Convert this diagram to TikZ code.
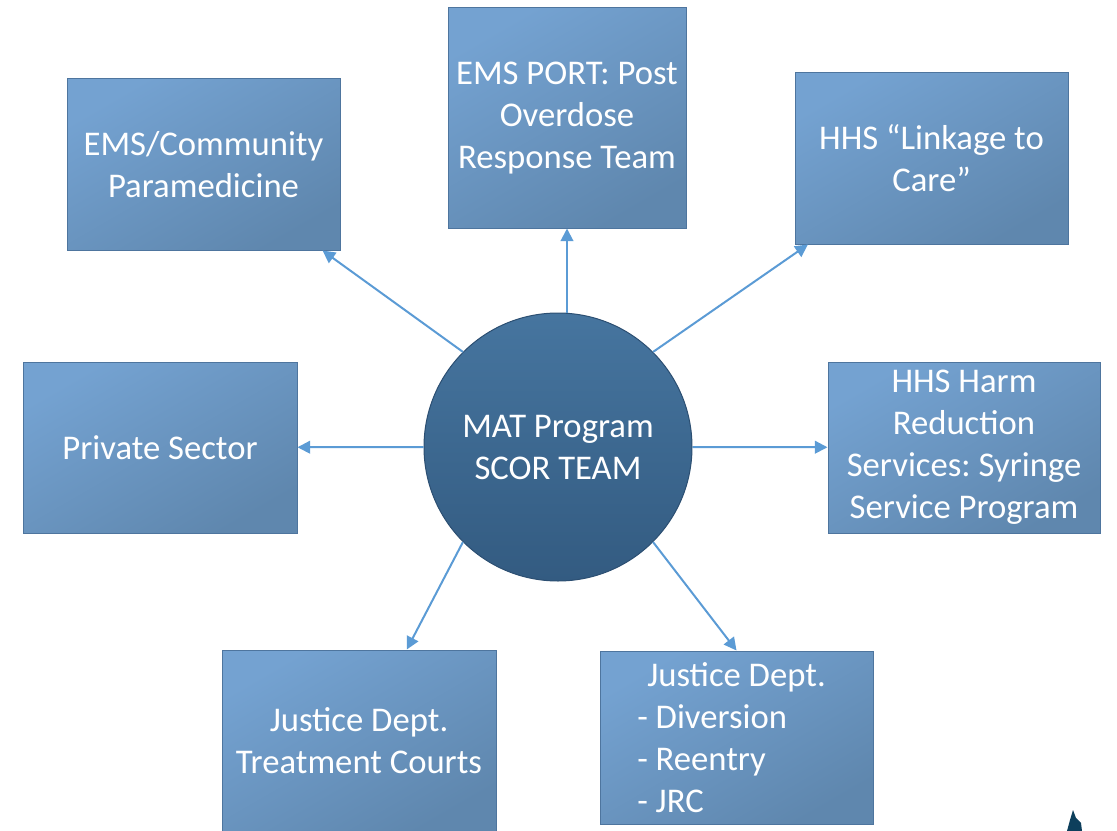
\documentclass[tikz,border=0pt]{standalone}
\usepackage{fontspec}
\setmainfont{Carlito}
\usetikzlibrary{arrows.meta}
\frenchspacing

\definecolor{boxlight}{HTML}{74A2D1}
\definecolor{boxdark}{HTML}{5F87AE}
\definecolor{boxline}{HTML}{4E759E}
\definecolor{hubtop}{HTML}{46759F}
\definecolor{hubbottom}{HTML}{335B81}
\definecolor{hubline}{HTML}{2C4F72}
\definecolor{linkblue}{HTML}{5B9BD5}
\definecolor{markteal}{HTML}{0D3F5C}

% one pixel of the drawing grid
\def\px{0.75pt}

\tikzset{
    agency/.style={draw=boxline, line width=0.75pt, top color=boxlight,
        bottom color=boxdark, shading angle=30, text=white, align=center,
        inner sep=0pt, font=\fontsize{26}{31.5}\selectfont},
    sized/.style 2 args={minimum width=#1*\px, minimum height=#2*\px},
    hub/.style={circle, draw=hubline, line width=0.75pt, top color=hubtop,
        bottom color=hubbottom, text=white, align=center, inner sep=0pt,
        minimum size=268*\px, font=\fontsize{26}{31.5}\selectfont},
    link/.style={draw=linkblue, line width=1.5pt,
        -{Triangle[length=9.5pt, width=9.5pt]}},
}

\begin{document}
\begin{tikzpicture}[x=0.75pt, y=-0.75pt]

        \useasboundingbox (0, 0) rectangle (1117, 831);

        % the team in the middle
        \node[hub] (hub) at (558, 447) {MAT Program\\SCOR TEAM};

        % partner programs round it
        \node[agency, sized={273}{171}] (ems)     at (203.5, 164.5) {EMS/Community\\Paramedicine};
        \node[agency, sized={238}{220}] (port)    at (567, 118)     {EMS PORT: Post\\Overdose\\Response Team};
        \node[agency, sized={273}{171}] (care)    at (931.5, 158.5) {HHS “Linkage to\\Care”};
        \node[agency, sized={274}{171}] (private) at (160, 447.5)   {Private Sector};
        \node[agency, sized={272}{171}] (harm)    at (964, 447.5)   {HHS Harm\\Reduction\\Services: Syringe\\Service Program};
        \node[agency, sized={274}{182}] (courts)  at (359, 741)     {Justice Dept.\\Treatment Courts};
        \node[agency, sized={273}{173}, align=left] (justice) at (736.5, 737.5)
            {\hspace*{7.5pt}Justice Dept.\hspace*{7.5pt}\\- Diversion\\- Reentry\\- JRC};

        \draw[link] (hub.135) -- (ems);
        \draw[link] (port.south |- hub.north) -- (port.south);
        \draw[link] (hub.45) -- (care);
        \draw[link] (hub.west) -- (private);
        \draw[link] (hub.east) -- (harm);
        \draw[link] (hub.225) -- (courts);
        \draw[link] (hub.315) -- (justice.north);

        % corner mark
        \fill[markteal] (1073, 810) -- (1076, 818) -- (1081, 823) -- (1082, 831)
            -- (1067, 831) -- (1070, 820) -- cycle;

    \end{tikzpicture}
\end{document}
